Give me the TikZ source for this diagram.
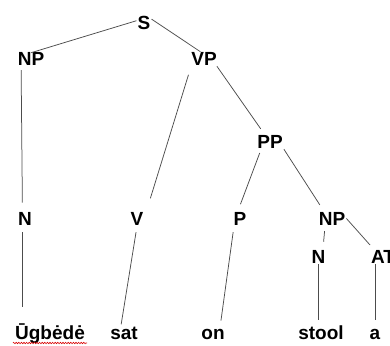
\documentclass[tikz,border=0pt]{standalone}
\usepackage{fontspec}
\setmainfont{Liberation Sans}
\usetikzlibrary{decorations.pathmorphing}
\tikzset{
  lbl/.style={font=\fontsize{19}{22}\selectfont\bfseries, inner sep=1pt, anchor=base},
  br/.style={draw=black!70, line width=0.75pt},
  squig/.style={draw=red!85!black, line width=0.6pt, decorate, decoration={zigzag, segment length=2.6pt, amplitude=0.7pt}}
}
\begin{document}
\begin{tikzpicture}[x=1pt,y=-1pt]
\useasboundingbox (0,0) rectangle (390,345);
% nodes (x = centre, y = baseline)
\node[lbl] (S)   at (144,30)  {S};
\node[lbl] (NP)  at (31,65)   {NP};
\node[lbl] (VP)  at (204,65)  {VP};
\node[lbl] (PP)  at (270,148) {PP};
\node[lbl] (N)   at (25,225)  {N};
\node[lbl] (V)   at (137,225) {V};
\node[lbl] (P)   at (240,225) {P};
\node[lbl] (NPb) at (332,225) {NP};
\node[lbl] (Nb)  at (318.5,263) {N};
\node[lbl] (AT)  at (383,263) {AT};
\node[lbl] (w1)  at (50,339)  {Ūgbėdė};
\node[lbl] (w2)  at (124,339) {sat};
\node[lbl] (w3)  at (213,339) {on};
\node[lbl] (w4)  at (321,339) {stool};
\node[lbl] (w5)  at (375,339) {a};
% branches
\draw[br] (S.160) -- ([yshift=-2pt]NP.north);
\draw[br] (S.30) -- ([yshift=-1pt]VP.115);
\draw[br, shorten <=4pt, shorten >=8pt] ([xshift=4.5pt]NP.south west) -- ([xshift=5.5pt]N.north west);
\draw[br, shorten <=9pt, shorten >=13pt] ([xshift=1pt]VP.south west) -- ([xshift=2pt]V.north east);
\draw[br, shorten >=6pt] ([xshift=-1pt]VP.south east) -- ([xshift=8pt]PP.north west);
\draw[br, shorten <=4pt, shorten >=7pt] ([xshift=5pt]PP.south west) -- ([xshift=-2pt]P.north);
\draw[br, shorten >=7pt] (PP.south east) -- ([xshift=6pt]NPb.north west);
\draw[br, shorten <=6pt, shorten >=15pt] ([xshift=-2.5pt]N.south) -- ([xshift=-2.5pt]N.south |- w1.north);
\draw[br, shorten <=6pt, shorten >=1pt] (V.south) -- ([xshift=-3pt]w2.north);
\draw[br, shorten <=6pt, shorten >=7pt] ([xshift=1.5pt]P.south west) -- ([xshift=7pt]w3.north);
\draw[br, shorten <=5pt, shorten >=7pt] ([xshift=-7pt]NPb.south) -- ([xshift=4.5pt]Nb.north);
\draw[br, shorten >=5pt] (NPb.east) -- ([xshift=3.5pt]AT.north west);
\draw[br, shorten >=4pt] (Nb.south) -- (Nb.south |- w4.north);
\draw[br, shorten >=8pt] (w5.north |- AT.south) -- (w5.north);
% spell-check underline
\draw[squig] ([xshift=-1pt,yshift=-4pt]w1.base west) -- ([xshift=1pt,yshift=-4pt]w1.base east);
\end{tikzpicture}
\end{document}
